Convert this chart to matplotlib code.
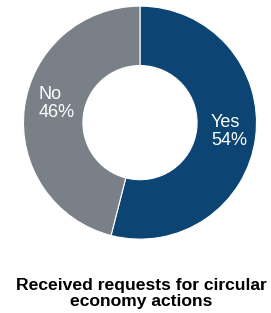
import matplotlib.pyplot as plt
import numpy as np

labels = ['Yes', 'No']
values = [54, 46]
colors = ['#0C4474', '#7A8087']

plt.rcParams['font.family'] = ['Liberation Sans', 'DejaVu Sans']

fig = plt.figure(figsize=(2.71, 3.13), dpi=100)
ax = fig.add_axes([0.0867, 0.236, 233 / 271, 233 / 313])

wedges, _ = ax.pie(values, colors=colors, startangle=90, counterclock=False,
                   radius=1.0, wedgeprops=dict(width=0.51, edgecolor='white', linewidth=0.8))
ax.set_xlim(-1, 1)
ax.set_ylim(-1, 1)
ax.set_aspect('equal')

# labels inside the ring
for w, lab, v in zip(wedges, labels, values):
    ang = np.deg2rad((w.theta1 + w.theta2) / 2)
    r = 0.75
    x, y = r * np.cos(ang), r * np.sin(ang)
    if lab == 'No':
        x += 0.03
        y += 0.07
    else:
        x += 0.02
        y += 0.02
    ax.text(x, y, f'{lab}\n{v}%', ha='center', va='center', multialignment='left',
            color='white', fontsize=13, linespacing=1.1)

fig.text(0.52, 0.063, 'Received requests for circular\neconomy actions', ha='center', va='center',
         fontsize=12.6, fontweight='bold', linespacing=1.1)

fig.savefig('out.png', dpi=100)
